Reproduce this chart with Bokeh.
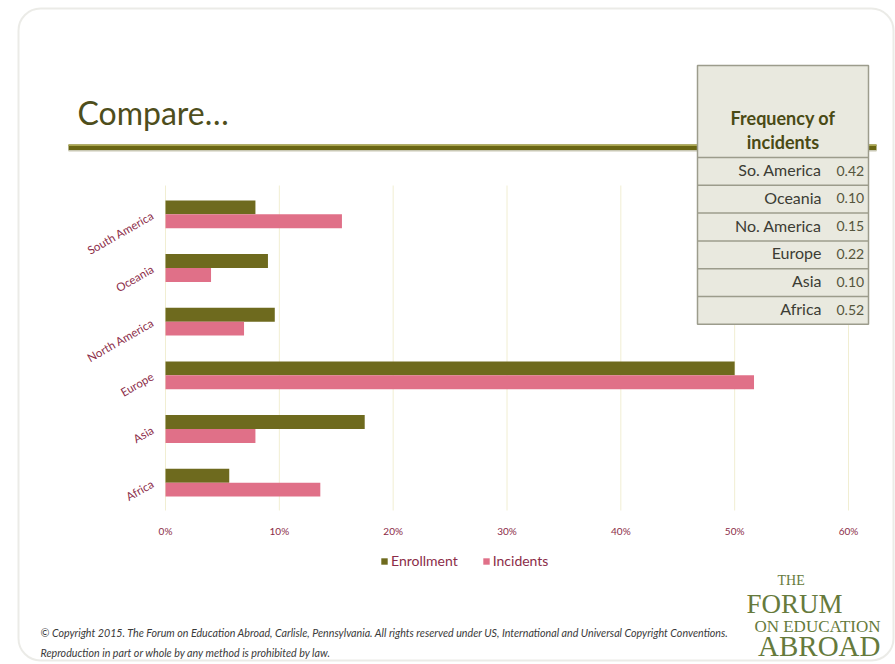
from bokeh.plotting import figure
from bokeh.models import (BoxAnnotation, Label, Legend, LegendItem, Range1d,
                          ColumnDataSource, LinearScale)
from bokeh.core.properties import value
from bokeh.embed import file_html
from bokeh.resources import INLINE

# ---- data ----
regions = ["Africa", "Asia", "Europe", "North America", "Oceania", "South America"]
enrollment = [5.6, 17.5, 50.0, 9.6, 9.0, 7.9]
incidents = [13.6, 7.9, 51.7, 6.9, 4.0, 15.5]
x_ticks = [0, 10, 20, 30, 40, 50, 60]
x_tick_labels = ["0%", "10%", "20%", "30%", "40%", "50%", "60%"]

table_regions = ["So. America", "Oceania", "No. America", "Europe", "Asia", "Africa"]
table_freq = ["0.42", "0.10", "0.15", "0.22", "0.10", "0.52"]

OLIVE = "#6e6a1e"
PINK = "#e07088"
MAROON = "#8b2c48"
FONT = "Lato"
W, H = 895, 664

# plot area of the chart on the slide (canvas pixels)
PL, PR, PT, PB = 165, 848, 187, 509

# ---------------- slide (frame covers the whole canvas, pixel units, y down) ----------------
p = figure(width=W, height=H, output_backend="svg", toolbar_location=None,
           x_range=Range1d(0, W), y_range=Range1d(H, 0),
           x_axis_location=None, y_axis_location=None, min_border=0)
p.grid.visible = False
p.outline_line_color = None
p.background_fill_color = "white"
p.border_fill_color = "white"

# chart coordinate systems mapped onto the plot area
n = len(regions)
y_cat = Range1d(0, n)          # one unit per category band
x_pct = Range1d(0, 60)
chart = p.subplot(x_source=x_pct, y_source=y_cat, x_scale=LinearScale(), y_scale=LinearScale(),
                  x_target=Range1d(PL, PR), y_target=Range1d(PB, PT))
xsub = p.subplot(x_source=x_pct, y_source=Range1d(0, H), x_scale=LinearScale(), y_scale=LinearScale(),
                 x_target=Range1d(PL, PR), y_target=Range1d(0, H))
ysub = p.subplot(x_source=Range1d(0, W), y_source=y_cat, x_scale=LinearScale(), y_scale=LinearScale(),
                 x_target=Range1d(0, W), y_target=Range1d(PB, PT))

band = [i + 0.5 for i in range(n)]
src = ColumnDataSource(dict(region=regions, pos=band, enroll=enrollment, inc=incidents,
                            pos_e=[b + 0.13 for b in band], pos_i=[b - 0.13 for b in band]))

# grid lines
xsub.segment(x0=x_ticks, x1=x_ticks, y0=PT - 2, y1=PB + 1, line_color="#f1eed2", line_width=1)

r1 = chart.hbar(y="pos_e", left=0, right="enroll", height=0.26,
                fill_color=OLIVE, line_color=None, source=src)
r2 = chart.hbar(y="pos_i", left=0, right="inc", height=0.26,
                fill_color=PINK, line_color=None, source=src)

# axis tick labels
xsub.text(x=x_ticks, y=[530] * len(x_ticks), text=x_tick_labels, text_font=value(FONT),
          text_font_size="10px", text_color=MAROON, text_align="center", text_baseline="middle")
ysub.text(x=152, y="pos", text="region", source=src, text_font=value(FONT),
          text_font_size="11.5px", text_color=MAROON, text_align="right", text_baseline="middle",
          angle=0.52)

legend = Legend(items=[LegendItem(label="Enrollment", renderers=[r1]),
                       LegendItem(label="Incidents", renderers=[r2])],
                orientation="horizontal", location=(380, 95), padding=0, margin=0,
                border_line_color=None, background_fill_alpha=0,
                glyph_width=8, glyph_height=8, label_standoff=3, spacing=24,
                label_text_font=FONT, label_text_font_size="14px", label_text_color=MAROON)
p.add_layout(legend, "center")


def lab(x, y, text, **kw):
    p.add_layout(Label(x=x, y=y, text=text, text_baseline="middle", **kw))


# slide frame
p.add_layout(BoxAnnotation(left=18, right=893, top=8, bottom=660, fill_alpha=0,
                           line_color="#bdbdb1", line_width=2, border_radius=22))
# title and rule
lab(77, 112, "Compare…", text_font=FONT, text_font_size="32px", text_color="#4e4e1c")
p.quad(left=[68], right=[876], top=[144], bottom=[150], fill_color="#6a6614", line_color=None)
p.quad(left=[68], right=[876], top=[144], bottom=[145.5], fill_color="#aaa650", line_color=None)
p.quad(left=[68], right=[876], top=[149.5], bottom=[151], fill_color="#c9c8b4", line_color=None)

# table
tl, tr, tt = 697, 868, 65
row_top = 157
row_h = 27.8
p.quad(left=[tl], right=[tr], top=[tt], bottom=[row_top + row_h * len(table_regions)],
       fill_color="#e9e9df", line_color="#9c9c8c", line_width=1.5)
lab((tl + tr) / 2, 117, "Frequency of", text_font=FONT, text_font_style="bold",
    text_font_size="18px", text_color="#4a4a14", text_align="center")
lab((tl + tr) / 2, 141, "incidents", text_font=FONT, text_font_style="bold",
    text_font_size="18px", text_color="#4a4a14", text_align="center")
for i, (name, val) in enumerate(zip(table_regions, table_freq)):
    y0 = row_top + row_h * i
    p.segment(x0=[tl], x1=[tr], y0=[y0], y1=[y0], line_color="#9c9c8c", line_width=1.5)
    lab(821, y0 + 12, name, text_font=FONT, text_font_size="16px",
        text_color="#3c3c34", text_align="right")
    lab(836, y0 + 13, val, text_font=FONT, text_font_size="14px",
        text_color="#55553c", text_align="left")

# footer
lab(40, 632, "© Copyright 2015. The Forum on Education Abroad, Carlisle, Pennsylvania. All rights reserved under US, International and Universal Copyright Conventions.",
    text_font=FONT, text_font_style="italic", text_font_size="10.7px", text_color="#3a3a3a")
lab(40, 652, "Reproduction in part or whole by any method is prohibited by law.",
    text_font=FONT, text_font_style="italic", text_font_size="10.7px", text_color="#3a3a3a")

# logo
LOGO = "#667a3c"
SERIF = "Liberation Serif"
lab(777, 580, "THE", text_font=SERIF, text_font_size="14px", text_color=LOGO)
lab(746, 603, "FORUM", text_font=SERIF, text_font_size="27px", text_color=LOGO)
lab(880, 626, "ON EDUCATION", text_font=SERIF, text_font_size="17px", text_color=LOGO,
    text_align="right")
lab(880, 645, "ABROAD", text_font=SERIF, text_font_size="29px", text_color=LOGO,
    text_align="right")

open("out.html", "w").write(file_html(p, INLINE))
